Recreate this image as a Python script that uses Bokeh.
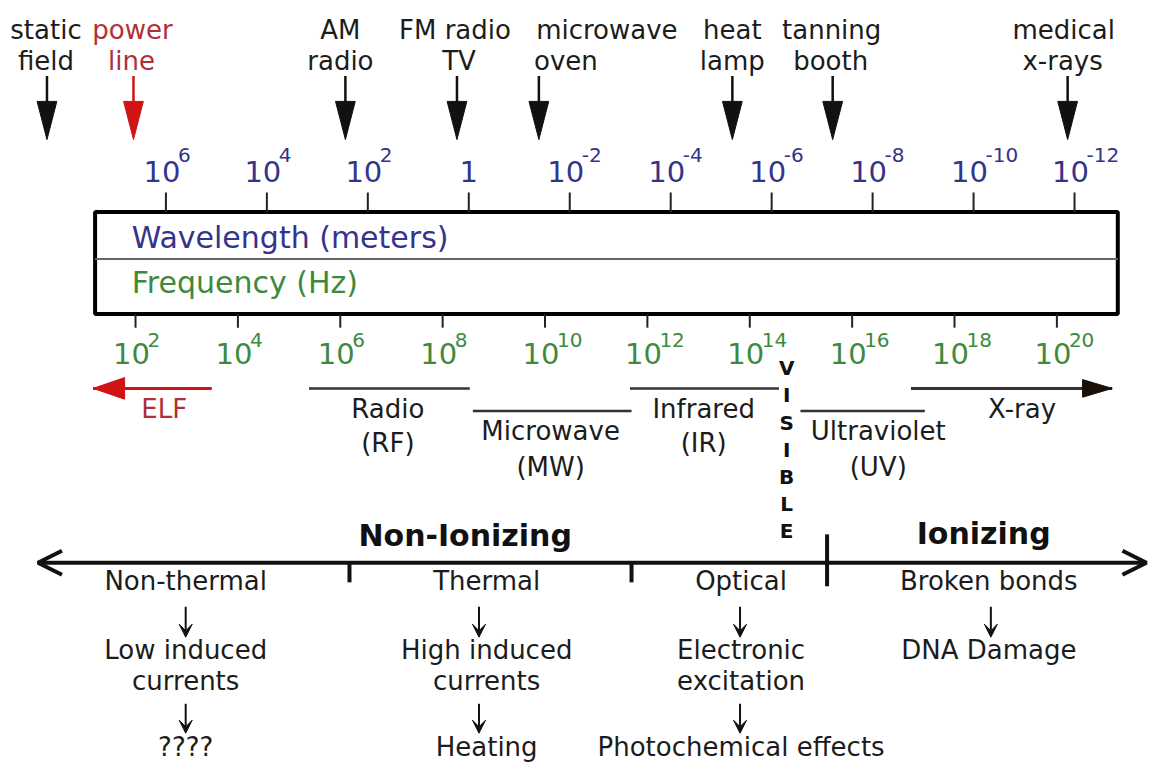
from bokeh.plotting import figure
from bokeh.models import Range1d, ColumnDataSource, Arrow, VeeHead, OpenHead
from bokeh.core.properties import value
from bokeh.embed import file_html
from bokeh.resources import INLINE

# ---------------- data ----------------
# wavelength ticks (10^e metres) and frequency ticks (10^e Hz)
wl_exp = [6, 4, 2, 0, -2, -4, -6, -8, -10, -12]
freq_exp = [2, 4, 6, 8, 10, 12, 14, 16, 18, 20]

# everyday sources, positioned on the log10(frequency / Hz) scale
src_line1 = ["static", "power", "AM", "FM radio", "microwave", "heat", "tanning", "medical"]
src_line2 = ["field", "line", "radio", "TV", "oven", "lamp", "booth", "x-rays"]
src_logf = [0.27, 1.96, 6.10, 8.28, 9.88, 13.66, 15.62, 20.21]
src_highlight = [False, True, False, False, False, False, False, False]

# spectral bands: extent in log10(Hz), label centre
band_name1 = ["ELF", "Radio", "Microwave", "Infrared", "Ultraviolet", "X-ray"]
band_name2 = ["", "(RF)", "(MW)", "(IR)", "(UV)", ""]
band_start = [3.49, 5.39, 8.59, 11.66, 14.99, 17.15]
band_end = [1.17, 8.53, 11.69, 14.57, 17.42, 21.08]
band_label = [2.56, 6.93, 10.11, 13.10, 16.51, 19.32]
band_row = ["upper", "upper", "lower", "upper", "lower", "upper"]

visible_letters = list("VISIBLE")
visible_logf = 14.72

# biological effects
region_names = ["Non-Ionizing", "Ionizing"]
region_logf = [8.44, 18.57]
boundary_logf = [6.18, 11.69, 15.51]
col_logf = [2.98, 8.86, 13.83, 18.67]
col_arrow_logf = [2.98, 8.71, 13.81, 18.71]
col_head = ["Non-thermal", "Thermal", "Optical", "Broken bonds"]
col_mid1 = ["Low induced", "High induced", "Electronic", "DNA Damage"]
col_mid2 = ["currents", "currents", "excitation", ""]
col_end = ["????", "Heating", "Photochemical effects", ""]

# ---------------- style ----------------
FONT = value("DejaVu Sans")
DARK = "#1c1c1c"
WL_COL = "#34348c"
FR_COL = "#3d8a3d"
RED_TXT = "#b0303a"
RED = "#d01414"
PX = 51.9  # reference px per decade of frequency (for head sizes)
TXT_DY = -10  # screen-px correction of the svg text baseline

p = figure(width=1150, height=766, output_backend="svg", toolbar_location=None,
           x_range=Range1d(-0.638, 21.829), y_range=Range1d(782, 0),
           x_axis_location=None, y_axis_location=None, min_border=0)
p.extra_x_ranges = {"wl": Range1d(9.277, -13.505)}
p.outline_line_color = None
p.grid.visible = False
p.background_fill_color = "white"
p.border_fill_color = "white"


def txt(x, y, text, size, color=DARK, align="left", bold=False, xo=0, rng="default"):
    n = len(text)
    src = ColumnDataSource(dict(
        x=list(x) if isinstance(x, (list, tuple)) else [x] * n,
        y=list(y) if isinstance(y, (list, tuple)) else [y] * n,
        text=list(text),
        c=list(color) if isinstance(color, (list, tuple)) else [color] * n,
        xo=list(xo) if isinstance(xo, (list, tuple)) else [xo] * n,
    ))
    p.text(x="x", y="y", text="text", source=src, text_font=FONT, text_font_size=size,
           text_color="c", text_align=align, text_baseline="alphabetic", x_offset="xo",
           y_offset=TXT_DY,
           text_font_style="bold" if bold else "normal", x_range_name=rng)


# ---------------- sources (top) ----------------
src_txt_col = [RED_TXT if h else DARK for h in src_highlight]
src_mark_col = [RED if h else "#111111" for h in src_highlight]
l1_dx = [-1, -1, -5, -2, 68, 0, -1, -4]
l2_dx = [-1, -2, -5, 2, 27, 0, -2, -5]
txt(src_logf, 40, src_line1, "26px", src_txt_col, "center", xo=l1_dx)
txt(src_logf, 72, src_line2, "26px", src_txt_col, "center", xo=l2_dx)
p.segment(x0=src_logf, y0=77, x1=src_logf, y1=112, line_color=src_mark_col, line_width=2.5)
hw = 10 / PX
p.patches(xs=[[x - hw, x + hw, x] for x in src_logf],
          ys=[[103, 103, 142] for _ in src_logf],
          fill_color=src_mark_col, line_color=src_mark_col, line_width=1)

# ---------------- scale box ----------------
p.quad(left=1.21, right=21.19, top=216, bottom=320, fill_color="white",
       line_color="black", line_width=4)
p.segment(x0=1.21, y0=264, x1=21.19, y1=264, line_color="#666666", line_width=2)
txt([1.925], 252, ["Wavelength (meters)"], "30px", WL_COL)
txt([1.925], 298, ["Frequency (Hz)"], "30px", FR_COL)

# wavelength ticks & labels
p.segment(x0=wl_exp, y0=196, x1=wl_exp, y1=216, line_color="#222222", line_width=2,
          x_range_name="wl")
wl_base = ["10" if e != 0 else "1" for e in wl_exp]
wl_sup = [str(e) if e != 0 else "" for e in wl_exp]
txt(wl_exp, 185, wl_base, "29px", WL_COL, "center", xo=[-4 if e else 0 for e in wl_exp], rng="wl")
txt(wl_exp, 168, wl_sup, "20px", WL_COL, "left", xo=12, rng="wl")

# frequency ticks & labels
p.segment(x0=freq_exp, y0=320, x1=freq_exp, y1=334, line_color="#222222", line_width=2)
txt(freq_exp, 371, ["10"] * len(freq_exp), "29px", FR_COL, "center", xo=-4)
txt(freq_exp, 357, [str(e) for e in freq_exp], "20px", FR_COL, "left", xo=12)

# ---------------- bands ----------------
row_y = {"upper": 396, "lower": 419}
row_b1 = {"upper": 427, "lower": 450}
row_b2 = {"upper": 462, "lower": 486}
band_col = [RED if n == "ELF" else "#333333" for n in band_name1]
band_txt_col = [RED_TXT if n == "ELF" else DARK for n in band_name1]
by = [row_y[r] for r in band_row]
p.segment(x0=band_start, y0=by, x1=band_end, y1=by, line_color=band_col,
          line_width=[3 if n in ("ELF", "X-ray") else 2.5 for n in band_name1])
# arrow heads of the open-ended bands
elf_i = band_name1.index("ELF")
xr_i = band_name1.index("X-ray")
te, tx = band_end[elf_i], band_end[xr_i]
p.patches(xs=[[te, te + 32 / PX, te + 32 / PX], [tx, tx - 30 / PX, tx - 30 / PX]],
          ys=[[by[elf_i], by[elf_i] - 11, by[elf_i] + 11], [by[xr_i], by[xr_i] - 9, by[xr_i] + 9]],
          fill_color=[RED, "#1a1008"], line_color=[RED, "#1a1008"])
txt(band_label, [row_b1[r] for r in band_row], band_name1, "26px", band_txt_col, "center")
txt(band_label, [row_b2[r] for r in band_row], band_name2, "26px", band_txt_col, "center")

# VISIBLE (vertical)
txt([visible_logf] * len(visible_letters),
    [385.5 + 27.8 * i for i in range(len(visible_letters))],
    visible_letters, "20px", "#111111", "center", bold=True)

# ---------------- effects axis ----------------
main = Arrow(start=OpenHead(size=24, line_width=4, line_color="#111111"),
             end=OpenHead(size=24, line_width=4, line_color="#111111"),
             x_start=0.094, y_start=574, x_end=21.75, y_end=574,
             line_width=4, line_color="#111111")
p.add_layout(main)
p.segment(x0=boundary_logf, y0=[574, 574, 545], x1=boundary_logf, y1=[594, 594, 598],
          line_color="#111111", line_width=4)
txt(region_logf, [556, 554], region_names, "30px", "#111111", "center", bold=True)

txt(col_logf, 603, col_head, "26px", DARK, "center")
txt(col_logf, 673, col_mid1, "26px", DARK, "center")
txt(col_logf, 705, col_mid2, "26px", DARK, "center")
txt(col_logf, 772, col_end, "26px", DARK, "center")

a1 = ColumnDataSource(dict(x=col_arrow_logf, y0=[619] * 4, y1=[650] * 4))
p.add_layout(Arrow(end=VeeHead(size=13, fill_color="#111111", line_color="#111111"),
                   x_start="x", y_start="y0", x_end="x", y_end="y1", source=a1,
                   line_width=2, line_color="#111111"))
has2 = [i for i, t in enumerate(col_end) if t]
a2 = ColumnDataSource(dict(x=[col_arrow_logf[i] for i in has2], y0=[718] * len(has2),
                           y1=[748] * len(has2)))
p.add_layout(Arrow(end=VeeHead(size=13, fill_color="#111111", line_color="#111111"),
                   x_start="x", y_start="y0", x_end="x", y_end="y1", source=a2,
                   line_width=2, line_color="#111111"))

open("out.html", "w").write(file_html(p, INLINE))
